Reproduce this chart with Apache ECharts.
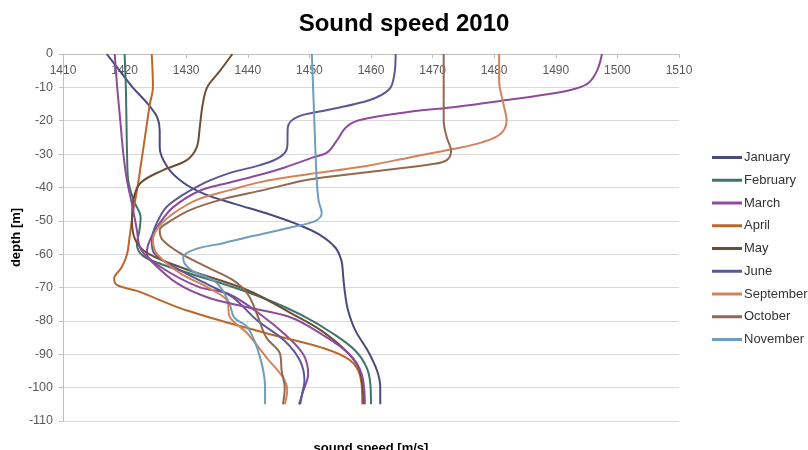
<!DOCTYPE html>
<html>
<head>
<meta charset="utf-8">
<script src="https://cdn.jsdelivr.net/npm/echarts@6/dist/echarts.min.js"></script>
<style>html,body{margin:0;padding:0;background:#fff;}#c{width:808px;height:450px;}</style>
</head>
<body>
<div id="c"></div>
<script>
// [sound speed m/s, depth m]
const january = [[1417.1,0],[1419.2,-5],[1421.3,-10],[1423.8,-15],[1425.3,-19],[1425.7,-23],[1425.7,-28],[1427,-34],[1429.5,-38.5],[1433,-42],[1438,-45],[1443.1,-47.8],[1448,-51],[1451.5,-54],[1454.2,-58],[1455.2,-62],[1455.5,-67],[1455.8,-72],[1456.3,-77],[1457.5,-83],[1459.5,-89],[1461,-95],[1461.5,-100],[1461.5,-105]];
const february = [[1420,0],[1420.2,-10],[1420.3,-20],[1420.4,-30],[1420.6,-38],[1421.5,-44],[1422.6,-49],[1422.4,-53],[1422,-57],[1423,-60.5],[1426,-63],[1431,-66],[1437,-69.5],[1443,-73.5],[1449,-78.5],[1454,-84],[1457.5,-89],[1459.3,-94],[1459.9,-99],[1460,-105]];
const march = [[1497.5,0],[1496.7,-5],[1495.3,-8.7],[1493,-10.5],[1490,-11.7],[1482,-13.8],[1474,-15.8],[1466,-17.4],[1458.2,-19.8],[1456,-21.9],[1454.5,-25.8],[1452.9,-29.5],[1450.6,-31],[1446,-34],[1442,-36.2],[1437.1,-38.5],[1432.2,-41],[1427.9,-45.9],[1425.7,-50.7],[1424.1,-55.8],[1423.6,-59.7],[1426,-64],[1432,-69.8],[1437,-72],[1442,-78],[1446,-84],[1449,-90],[1449.8,-96],[1449,-101],[1448.3,-105]];
const april = [[1424.4,0],[1424.6,-10],[1424.1,-15],[1423.3,-25],[1422.5,-35],[1422,-41],[1421.4,-47],[1420.8,-55],[1420.4,-60],[1419.5,-64],[1418.3,-67.3],[1418.8,-69.3],[1422,-71],[1430,-76.8],[1443,-83.7],[1452,-88],[1456.6,-91.8],[1458.3,-97],[1458.6,-105]];
const may = [[1437.5,0],[1435.5,-5],[1433.4,-10],[1432.6,-16],[1432.2,-22],[1431.7,-28],[1430.1,-31.8],[1426,-35],[1422.5,-38.8],[1421.4,-44],[1421.2,-50],[1421.8,-56],[1424,-60],[1430,-64.5],[1440,-70.8],[1447,-77.7],[1452,-83],[1456.3,-89.7],[1458.2,-95],[1458.8,-105]];
const june = [[1464,0],[1463.8,-6],[1463,-10.5],[1459.8,-13.8],[1452.9,-16.8],[1448,-18.9],[1446.5,-21.9],[1446.4,-27.9],[1445.2,-30.9],[1442,-33.3],[1437,-35.7],[1432,-39.5],[1427,-45.5],[1425.2,-50.8],[1424.4,-55.8],[1424.8,-59.7],[1429,-64.8],[1434.4,-69.9],[1437.6,-73],[1441.5,-79.8],[1446,-86],[1448.5,-92],[1449.2,-98],[1448.8,-102],[1448.5,-105]];
const september = [[1480.8,0],[1480.8,-8],[1481.5,-15],[1482,-20],[1481,-24],[1478,-26.5],[1473.3,-28.5],[1466.3,-31],[1458.2,-33.9],[1450,-36],[1442,-38.4],[1437.1,-40.8],[1432,-43.5],[1427.9,-47.8],[1425.5,-51.9],[1424.6,-55.8],[1425.3,-60],[1429,-65.7],[1433.4,-69.9],[1436.6,-73.8],[1437.1,-78.9],[1439.9,-83.7],[1443,-90.9],[1445.7,-96.9],[1446.4,-100.8],[1446,-105]];
const october = [[1471.8,0],[1471.8,-10],[1471.8,-20],[1472.3,-25],[1473,-29],[1472.3,-31.8],[1470,-33],[1460,-35.3],[1450,-37.6],[1442.5,-40.8],[1436,-43.5],[1430.6,-46.8],[1426.9,-50.7],[1425.7,-52.8],[1426.2,-55.8],[1429,-59.7],[1433.4,-63.9],[1437.6,-67.8],[1440,-72],[1441.5,-78],[1443,-85],[1445.2,-89.7],[1445.5,-95],[1446,-100],[1445.7,-105]];
const november = [[1450.4,0],[1450.6,-10],[1450.8,-20],[1451,-30],[1451.2,-38],[1451.5,-44],[1452,-47.7],[1451,-50],[1446.9,-52],[1441,-54.5],[1436,-56.7],[1431.5,-58.5],[1429.5,-61],[1429.8,-63],[1431,-65],[1435,-68.7],[1437,-74.7],[1437.8,-79],[1440,-82],[1442,-91],[1442.8,-100],[1442.8,-105]];
const extraProfile = [[1418.4,0],[1418.8,-10],[1419.3,-20],[1419.8,-30],[1420.4,-38],[1421.2,-45],[1422,-52.8],[1422.5,-58],[1424,-61.5],[1428.5,-68.7],[1433.4,-72.9],[1439.9,-75.9],[1446.9,-78.9],[1452,-84],[1456.5,-90],[1458.5,-96],[1459,-105]];

const legendNames = ['January','February','March','April','May','June','September','October','November'];
const seriesList = [
  {name:'January', data:january, color:'#4B4A7E'},
  {name:'February', data:february, color:'#3F7468'},
  {name:'March', data:march, color:'#8E4B9E'},
  {name:'April', data:april, color:'#BA672C'},
  {name:'May', data:may, color:'#6B4E36'},
  {name:'June', data:june, color:'#5B5896'},
  {name:'September', data:september, color:'#D3835A'},
  {name:'October', data:october, color:'#94684E'},
  {name:'November', data:november, color:'#6E9DBE'},
  {name:'profile', data:extraProfile, color:'#8C4C9C'}
];
const xTicksMin = 1410, xTicksMax = 1510, xStep = 10;
const yMin = -110, yMax = 0, yStep = 10;

const chart = echarts.init(document.getElementById('c'), null, {renderer:'canvas'});
const FONT = 'Liberation Sans';
chart.setOption({
  animation:false,
  backgroundColor:'#fff',
  title:{text:'Sound speed 2010', left:'center', top:7, textStyle:{fontSize:24, fontWeight:'bold', color:'#000', fontFamily:FONT}},
  legend:{orient:'vertical', left:707, top:146, icon:'rect', itemWidth:30, itemHeight:3, itemGap:9.75, data:legendNames,
    textStyle:{fontSize:13, color:'#333', fontFamily:FONT, padding:[0,0,0,-3]}},
  grid:{left:63, right:129, top:54, bottom:29, outerBoundsMode:'none', containLabel:false},
  xAxis:{type:'value', position:'top', min:xTicksMin, max:xTicksMax, interval:xStep,
    axisLine:{show:true, lineStyle:{color:'#BFBFBF'}},
    axisTick:{show:true, inside:true, length:4, lineStyle:{color:'#BFBFBF'}},
    axisLabel:{inside:true, margin:11, color:'#595959', fontSize:12, fontFamily:FONT, formatter:v => String(v)},
    splitLine:{show:false}},
  yAxis:{type:'value', min:yMin, max:yMax, interval:yStep,
    name:'depth [m]', nameLocation:'middle', nameGap:40, nameMoveOverlap:false,
    nameTextStyle:{fontWeight:'bold', fontSize:13, color:'#000', fontFamily:FONT},
    axisLine:{show:true, onZero:false, lineStyle:{color:'#BFBFBF'}},
    axisTick:{show:true, length:4, lineStyle:{color:'#BFBFBF'}},
    axisLabel:{color:'#595959', fontSize:12.5, margin:10, fontFamily:FONT, formatter:v => String(v)},
    splitLine:{show:true, lineStyle:{color:'#D9D9D9', width:1}}},
  graphic:[{type:'text', x:371, y:448, style:{text:'sound speed [m/s]', textAlign:'center', textVerticalAlign:'middle', font:'bold 13px "Liberation Sans"', fill:'#000'}}],
  series: seriesList.map(s => ({
    name:s.name, type:'line', data:s.data, smooth:0.35, symbol:'none', showSymbol:false,
    color:s.color, lineStyle:{width:2, color:s.color}, z:2
  }))
});
</script>
</body>
</html>
